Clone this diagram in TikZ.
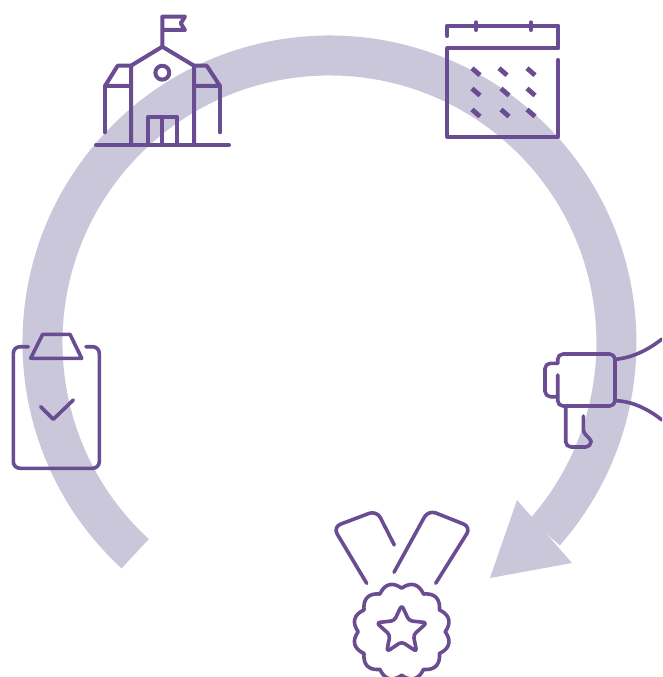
\documentclass[tikz,border=0pt]{standalone}
\definecolor{ringc}{HTML}{CBC7DA}
\definecolor{iconc}{HTML}{6A4C93}
\tikzset{
  icon/.style={draw=iconc,line width=3pt,line join=round,line cap=round},
  thin icon/.style={icon,line width=2.7pt},
  ringarc/.style={draw=ringc,line width=30pt},
  ringhead/.style={fill=ringc,draw=none},
  dotmark/.style={icon,line width=3.6pt,line cap=butt}
}
\begin{document}
\begin{tikzpicture}[x=0.75pt,y=-0.75pt]
\useasboundingbox (0,0) rectangle (662,677);
\clip (0,0) rectangle (662,677);
% ring arrow
\draw[ringarc] (135.2,553.7) arc[start angle=227.4,end angle=-41.4,radius=215.25pt];
\fill[ringhead] (490,578) -- (517,500) -- (572,563) -- cycle;
% school
\draw[icon] (162.3,46.7) -- (162.3,16.7) -- (185,16.7) -- (180.7,23.3) -- (185,30) -- (162.3,30);
\draw[icon] (131,145) -- (131,65.7) -- (162.3,46.7) -- (194,65.7) -- (194,145);
\draw[icon] (131,65.7) -- (117.7,65.7) -- (105,86) -- (131,86);
\draw[icon] (105,86) -- (105,132.3);
\draw[icon] (194,65.7) -- (206.7,65.7) -- (220,86) -- (194,86);
\draw[icon] (220,86) -- (220,132.3);
\draw[icon] (96,145) -- (229,145);
\draw[icon] (148.3,145) -- (148.3,117) -- (176.7,117) -- (176.7,145);
\draw[icon] (162.3,117) -- (162.3,145);
\draw[icon] (162.3,72.7) circle[radius=5.2pt];
% calendar
\draw[icon] (447.3,36) -- (447.3,25.7) -- (558.3,25.7) -- (558.3,48.3) -- (447.3,48.3) -- (447.3,136.7) -- (558.3,136.7) -- (558.3,60);
\draw[icon] (476,22.3) -- (476,30);
\draw[icon] (531,22.3) -- (531,30);
\foreach \cx/\cy in {476/71.7,503/71.7,531/71.7,476/92,505/92,531/92,476/113,505/113,531/113}
  \draw[dotmark] (\cx-4,\cy-3.5) -- (\cx+4,\cy+3.5);
% clipboard
\draw[thin icon,rounded corners=5pt] (28.3,346.7) -- (13.3,346.7) -- (13.3,468.3) -- (99.3,468.3) -- (99.3,346.7) -- (86,346.7);
\draw[thin icon] (30.7,358.3) -- (81.7,358.3) -- (70,334.3) -- (42.7,334.3) -- cycle;
\draw[thin icon] (40.7,406.7) -- (53.3,419.3) -- (73.3,400);
% megaphone
\draw[thin icon,rounded corners=4pt] (557.7,375) -- (557.7,406) -- (615,406) -- (615,354) -- (557.7,354) -- (557.7,363.3);
\draw[thin icon,rounded corners=4pt] (557.7,363.3) -- (545,363.3) -- (545,396.7) -- (557.7,396.7);
\draw[thin icon,rounded corners=4pt] (565.7,406.7) -- (565.7,447) -- (591,447) -- (591,441);
\draw[thin icon] (591,441) .. controls (589,436) and (583.3,436) .. (583.3,428) -- (583.3,416);
\draw[thin icon] (615,359.3) .. controls (632,358) and (648,350) .. (662,339);
\draw[thin icon] (615,400.7) .. controls (632,401) and (648,409) .. (662,420);
% medal
\draw[thin icon,rounded corners=6pt] (394.3,545) -- (376.7,510.5) -- (333,527) -- (366.7,583.3);
\draw[thin icon,rounded corners=6pt] (394,572.3) -- (428.3,510) -- (471,527) -- (435.7,583.3);
\draw[thin icon] plot[domain=0:360,samples=361,smooth] ({401.7+(43.5+5*abs(sin(6*\x)))*sin(\x)},{631.7+(43.5+5*abs(sin(6*\x)))*cos(\x)}) -- cycle;
\draw[thin icon,rounded corners=2.5pt] (401.7,605) -- (409,620.7) -- (427,622.7) -- (413.3,635) -- (416.7,651.7) -- (401.7,641.7) -- (386.7,651.7) -- (390,635) -- (376.4,622.7) -- (394.3,620.7) -- cycle;
\end{tikzpicture}
\end{document}
